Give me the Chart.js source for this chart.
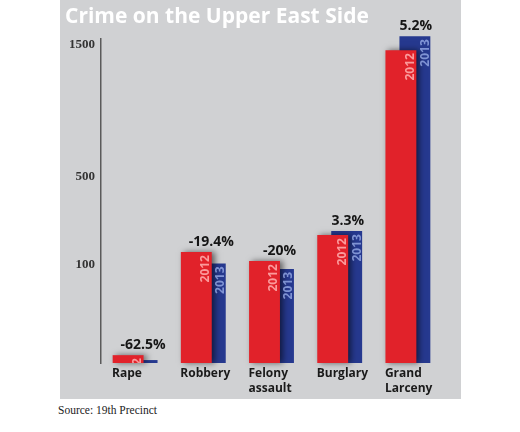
<!DOCTYPE html>
<html>
<head>
<meta charset="utf-8">
<script src="https://cdn.jsdelivr.net/npm/chart.js@4.4.1/dist/chart.umd.min.js"></script>
<style>
  body { margin: 0; background: #fff; }
  #panel { position: absolute; left: 60px; top: 0; width: 401px; height: 399px; background: #d0d1d3; }
  #source { position: absolute; left: 58px; top: 404px; font: 11.5px "Liberation Serif", serif; color: #222; }
</style>
</head>
<body>
<div id="panel"><canvas id="crimeChart" width="401" height="399"></canvas></div>
<div id="source">Source: 19th Precinct</div>
<script>
var categories = ['Rape', 'Robbery', ['Felony', 'assault'], 'Burglary', ['Grand', 'Larceny']];
var years = ['2012', '2013'];
var crimes2012 = [8, 159, 118, 236, 1457];
var crimes2013 = [3, 107, 96, 254, 1562];
var changeLabels = ['-62.5%', '-19.4%', '-20%', '3.3%', '5.2%'];
var yTicks = [100, 500, 1500];

// the printed axis is not linear: 100, 500 and 1500 sit at these fractions of its height
var scaleStops = [[0, 0], [100, 0.3025], [500, 0.575], [1500, 0.9836]];

function valueToDecimal(v) {
    var i = 1;
    while (i < scaleStops.length - 1 && v > scaleStops[i][0]) i++;
    var a = scaleStops[i - 1], b = scaleStops[i];
    return a[1] + (v - a[0]) * (b[1] - a[1]) / (b[0] - a[0]);
}
function decimalToValue(d) {
    var i = 1;
    while (i < scaleStops.length - 1 && d > scaleStops[i][1]) i++;
    var a = scaleStops[i - 1], b = scaleStops[i];
    return a[0] + (d - a[1]) * (b[0] - a[0]) / (b[1] - a[1]);
}

class StopsScale extends Chart.LinearScale {
    buildTicks() {
        return yTicks.map(function (v) { return { value: v }; });
    }
    getPixelForValue(value) {
        return this.getPixelForDecimal(valueToDecimal(value));
    }
    getValueForPixel(pixel) {
        return decimalToValue(this.getDecimalForPixel(pixel));
    }
}
StopsScale.id = 'stops';
StopsScale.defaults = Chart.LinearScale.defaults;
Chart.register(StopsScale);

var redShadow = {
    id: 'redShadow',
    beforeDatasetDraw: function (chart, args) {
        if (args.index !== 0) return;
        var c = chart.ctx;
        c.save();
        c.shadowColor = 'rgba(0,0,0,0.55)';
        c.shadowBlur = 6;
        c.shadowOffsetX = 3;
    },
    afterDatasetDraw: function (chart, args) {
        if (args.index === 0) chart.ctx.restore();
    }
};

var barText = {
    id: 'barText',
    afterDatasetsDraw: function (chart) {
        var ctx = chart.ctx;
        var red = chart.getDatasetMeta(0).data;
        var blue = chart.getDatasetMeta(1).data;
        [red, blue].forEach(function (bars, di) {
            bars.forEach(function (bar) {
                var p = bar.getProps(['x', 'y', 'base', 'width'], true);
                ctx.save();
                ctx.beginPath();
                ctx.rect(p.x - p.width / 2, p.y, p.width, p.base - p.y);
                ctx.clip();
                ctx.translate(p.x + p.width / 2 - (di ? 5 : 6), p.y + 3);
                ctx.rotate(-Math.PI / 2);
                ctx.font = 'bold 12px "Open Sans"';
                ctx.fillStyle = di ? 'rgba(150,170,230,0.8)' : 'rgba(255,175,175,0.85)';
                ctx.textAlign = 'right';
                ctx.textBaseline = 'middle';
                ctx.fillText(years[di], 0, 0);
                ctx.restore();
            });
        });
        ctx.save();
        ctx.font = 'bold 14px "Open Sans"';
        ctx.fillStyle = '#151515';
        ctx.textAlign = 'center';
        ctx.textBaseline = 'middle';
        changeLabels.forEach(function (t, i) {
            var top = Math.min(red[i].y, blue[i].y);
            ctx.fillText(t, blue[i].x + 1, top - 10.5);
        });
        ctx.restore();
    }
};

var ctx = document.getElementById('crimeChart').getContext('2d');
var crimeChart = new Chart(ctx, {
    type: 'bar',
    data: {
        labels: categories,
        datasets: [{
            label: years[0],
            data: crimes2012,
            backgroundColor: '#e1222a',
            categoryPercentage: 0.41,
            barPercentage: 2.21,
            clip: false
        }, {
            label: years[1],
            data: crimes2013,
            backgroundColor: '#26398f',
            categoryPercentage: 0.41,
            barPercentage: 2.21,
            clip: false
        }]
    },
    options: {
        responsive: false,
        animation: false,
        layout: {
            padding: { left: 5, right: 19, top: 0, bottom: 0 }
        },
        plugins: {
            legend: { display: false },
            tooltip: { enabled: false },
            title: {
                display: true,
                text: 'Crime on the Upper East Side',
                align: 'start',
                color: '#ffffff',
                font: { family: 'Open Sans', size: 21, weight: 'bold', lineHeight: 1.15 },
                padding: { top: 5, bottom: 10 }
            }
        },
        scales: {
            x: {
                grid: { display: false, drawTicks: false },
                border: { display: false },
                ticks: {
                    autoSkip: false,
                    maxRotation: 0,
                    align: 'start',
                    labelOffset: -23,
                    padding: 3,
                    color: '#1a1a1a',
                    font: { family: 'Open Sans', size: 12, weight: 'bold', lineHeight: 1.25 }
                },
                afterFit: function (scale) { scale.height = 36; }
            },
            y: {
                type: 'stops',
                min: 0,
                max: 1540,
                grid: { display: false, drawTicks: false },
                border: { display: true, color: '#5a5a5a', width: 1.5 },
                ticks: {
                    padding: 6,
                    color: '#333',
                    font: { family: 'Liberation Serif', size: 13, weight: 'bold' },
                    callback: function (v) { return String(v); }
                },
                afterFit: function (scale) { scale.width = 36; }
            }
        }
    },
    plugins: [redShadow, barText]
});
</script>
</body>
</html>
